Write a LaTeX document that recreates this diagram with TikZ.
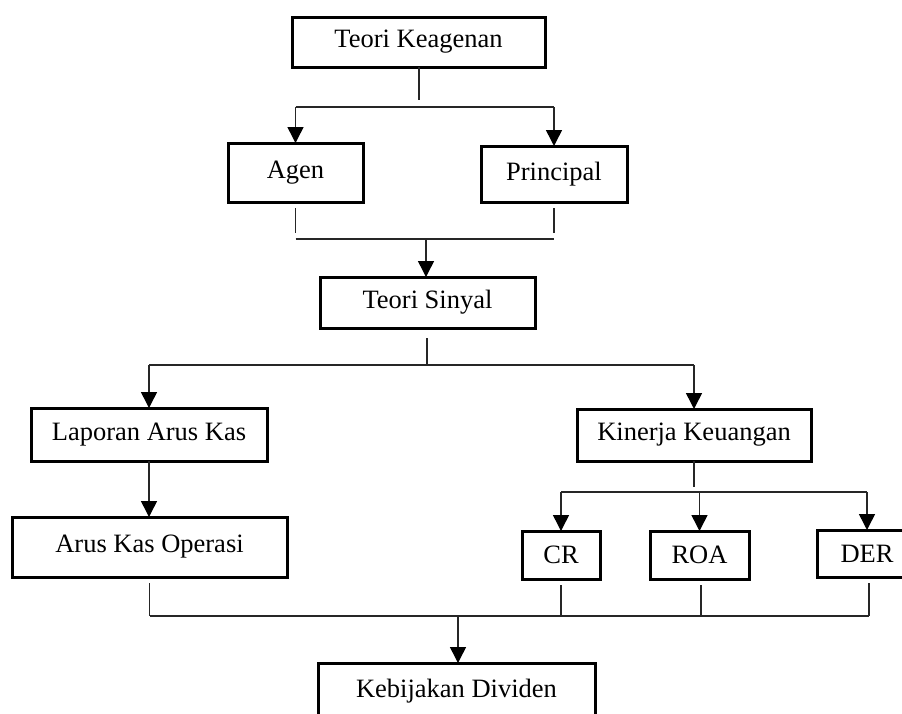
\documentclass[tikz,border=0pt]{standalone}
\usepackage{fontspec}
\setmainfont{Liberation Serif}
\usetikzlibrary{arrows.meta,calc}
\tikzset{
  box/.style={draw=black, line width=3pt, fill=white, inner sep=0pt, outer sep=0pt,
    font=\fontsize{26.5}{31}\selectfont, text=black},
  conn/.style={draw=black!85, line width=1.5pt},
  arr/.style={conn, -{Triangle[width=16pt,length=16pt,color=black]}},
}
\begin{document}
\begin{tikzpicture}[x=1pt,y=-1pt]
\useasboundingbox (0,0) rectangle (902,713);
\fill[white] (0,0) rectangle (902,713);
\clip (0,0) rectangle (902,713);
% boxes
\node[box, minimum width=253pt, minimum height=50pt] (tk) at (418.5,42) {Teori Keagenan};
\node[box, minimum width=135pt, minimum height=59pt] (agen) at (295.5,172.5) {Agen};
\node[box, minimum width=146pt, minimum height=56pt] (prin) at (554,174) {Principal};
\node[box, minimum width=215pt, minimum height=51pt] (ts) at (427.5,302.5) {Teori Sinyal};
\node[box, minimum width=236pt, minimum height=53pt] (lak) at (149,434.5) {Laporan Arus Kas};
\node[box, minimum width=234pt, minimum height=52pt] (kk) at (694,435) {Kinerja Keuangan};
\node[box, minimum width=275pt, minimum height=60pt] (ako) at (149.5,547) {Arus Kas Operasi};
\node[box, minimum width=78pt, minimum height=48pt] (cr) at (561,555) {CR};
\node[box, minimum width=99pt, minimum height=48pt] (roa) at (699.5,555) {ROA};
\node[box, minimum width=100pt, minimum height=47pt] (der) at (867,553.5) {DER};
\node[box, minimum width=277pt, minimum height=56pt] (kd) at (456.5,691) {Kebijakan Dividen};
% junction coordinates
\coordinate (b1) at (419,107);
\coordinate (b2) at (426,239);
\coordinate (b3) at (427,365);
\coordinate (b4) at (694,492);
\coordinate (b5) at (458,616);
% Teori Keagenan -> Agen, Principal
\draw[conn] (tk.south -| b1) -- ++(0,33);
\draw[conn] (agen.north |- b1) -- (prin.north |- b1);
\draw[arr] (agen.north |- b1) -- (agen.north);
\draw[arr] (prin.north |- b1) -- (prin.north);
% Agen, Principal -> Teori Sinyal
\draw[conn] (agen.south) ++(0,6) -- ++(0,25);
\draw[conn] (prin.south) ++(0,6) -- ++(0,25);
\draw[conn] (agen.south |- b2) -- (prin.south |- b2);
\draw[arr] (b2) -- (ts.north -| b2);
% Teori Sinyal -> Laporan, Kinerja
\draw[conn] (ts.south -| b3) ++(0,10) -- (b3);
\draw[conn] (lak.north |- b3) -- (kk.north |- b3);
\draw[arr] (lak.north |- b3) -- (lak.north);
\draw[arr] (kk.north |- b3) -- (kk.north);
% Laporan -> Arus Kas Operasi
\draw[arr] (lak.south) -- (ako.north -| lak.south);
% Kinerja -> CR, ROA, DER
\draw[conn] (kk.south) -- ++(0,26);
\draw[conn] (cr.north |- b4) -- (der.north |- b4);
\draw[arr] (cr.north |- b4) -- (cr.north);
\draw[arr] (roa.north |- b4) -- (roa.north);
\draw[arr] (der.north |- b4) -- (der.north);
% to Kebijakan Dividen
\draw[conn] (ako.south) ++(0,6) -- (ako.south |- b5);
\draw[conn] (cr.south) ++(0,6) -- (cr.south |- b5);
\draw[conn] (roa.south) ++(1.5,6) -- ($(roa.south |- b5)+(1.5,0)$);
\draw[conn] (der.south) ++(2,6) -- ($(der.south |- b5)+(2,0)$);
\draw[conn] (ako.south |- b5) -- ($(der.south |- b5)+(2,0)$);
\draw[arr] (b5) -- (kd.north -| b5);
\end{tikzpicture}
\end{document}
